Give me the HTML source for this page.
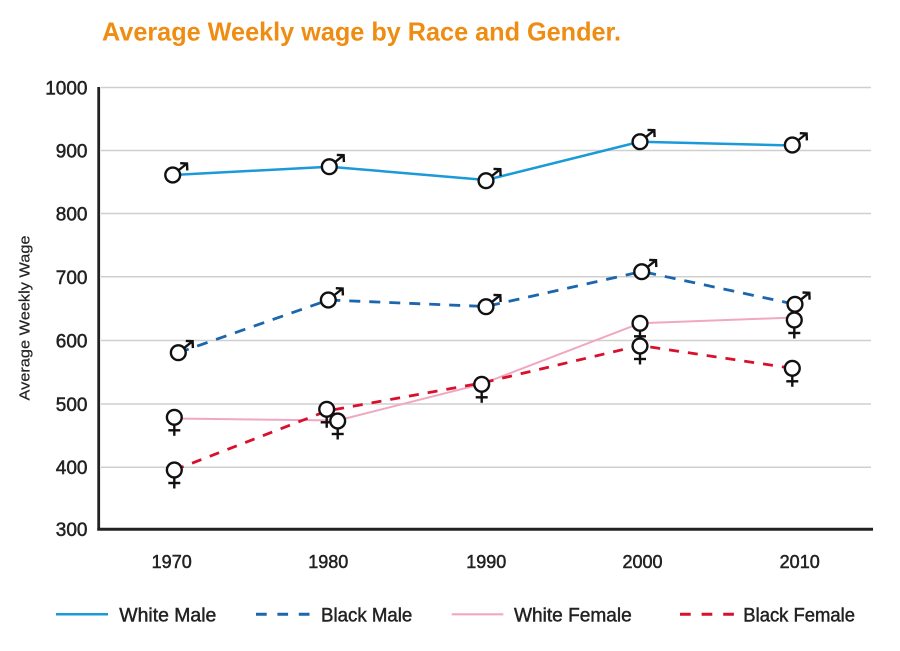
<!DOCTYPE html>
<html>
<head>
<meta charset="utf-8">
<style>
  html, body { margin:0; padding:0; background:#ffffff; }
  body { width:900px; height:651px; overflow:hidden; }
  svg { display:block; }
  text { font-family: "Liberation Sans", "DejaVu Sans", sans-serif; }
</style>
</head>
<body>
<svg width="900" height="651" viewBox="0 0 900 651" xmlns="http://www.w3.org/2000/svg">
  <rect x="0" y="0" width="900" height="651" fill="#ffffff"/>

  <!-- Title -->
  <text x="102" y="40.5" font-size="26" font-weight="bold" fill="#EF8C12" textLength="519" lengthAdjust="spacingAndGlyphs">Average Weekly wage by Race and Gender.</text>

  <!-- Gridlines -->
  <g stroke="#cfcfcf" stroke-width="1.5">
    <line x1="101" y1="87.5" x2="871" y2="87.5"/>
    <line x1="101" y1="150.5" x2="871" y2="150.5"/>
    <line x1="101" y1="213.5" x2="871" y2="213.5"/>
    <line x1="101" y1="276.8" x2="871" y2="276.8"/>
    <line x1="101" y1="340.5" x2="871" y2="340.5"/>
    <line x1="101" y1="404" x2="871" y2="404"/>
    <line x1="101" y1="467.3" x2="871" y2="467.3"/>
  </g>

  <!-- Axes -->
  <line x1="98.7" y1="87" x2="98.7" y2="530.5" stroke="#222" stroke-width="2.8"/>
  <line x1="97.3" y1="529.2" x2="873" y2="529.2" stroke="#222" stroke-width="3"/>

  <!-- Y tick labels -->
  <g font-size="19" fill="#222" stroke="#222" stroke-width="0.5" text-anchor="end">
    <text x="87.5" y="94.5">1000</text>
    <text x="87.5" y="157.5">900</text>
    <text x="87.5" y="220.5">800</text>
    <text x="87.5" y="283.8">700</text>
    <text x="87.5" y="347.5">600</text>
    <text x="87.5" y="411">500</text>
    <text x="87.5" y="474">400</text>
    <text x="87.5" y="536">300</text>
  </g>

  <!-- X tick labels -->
  <g font-size="18" fill="#222" stroke="#222" stroke-width="0.5" text-anchor="middle">
    <text x="171.7" y="568">1970</text>
    <text x="328.3" y="568">1980</text>
    <text x="486.3" y="568">1990</text>
    <text x="642.5" y="568">2000</text>
    <text x="799.7" y="568">2010</text>
  </g>

  <!-- Y axis title -->
  <text transform="translate(29.5,318) rotate(-90)" font-size="14.5" fill="#222" stroke="#222" stroke-width="0.2" text-anchor="middle" textLength="165" lengthAdjust="spacingAndGlyphs">Average Weekly Wage</text>

  <!-- Series lines -->
  <polyline fill="none" stroke="#1A9AD8" stroke-width="2.5" stroke-linejoin="round"
    points="172.7,175 329.3,166.7 486,180 640,141.7 792.3,145.5"/>
  <polyline fill="none" stroke="#1B66AC" stroke-width="2.8" stroke-dasharray="11 9"
    points="178.3,352.7 328.3,300 486,306.5 641.7,271.5 795,304.3"/>
  <polyline fill="none" stroke="#F0A8C0" stroke-width="2" stroke-linejoin="round"
    points="174.3,418.5 337.7,420.5 481.7,384 640,323.3 794.3,317.5"/>
  <polyline fill="none" stroke="#D8102C" stroke-width="2.8" stroke-dasharray="10 9"
    points="174.3,470 326.7,411 481.7,383 640,345.5 792.3,368.3"/>

  <defs>
    <g id="male" fill="none" stroke="#111" stroke-width="2.4">
      <circle cx="0" cy="0" r="7.4" fill="#fff"/>
      <line x1="5.6" y1="-4.5" x2="14.3" y2="-11.5"/>
      <polyline points="7.5,-11.8 14.3,-11.5 14.6,-4.6" stroke-linejoin="miter"/>
    </g>
    <g id="female" fill="none" stroke="#111" stroke-width="2.4">
      <line x1="0" y1="7" x2="0" y2="18.5"/>
      <line x1="-6" y1="13" x2="6" y2="13"/>
      <circle cx="0" cy="0" r="7.4" fill="#fff"/>
    </g>
  </defs>

  <!-- White Male markers -->
  <use href="#male" x="172.7" y="175"/>
  <use href="#male" x="329.3" y="166.7"/>
  <use href="#male" x="486" y="180.7"/>
  <use href="#male" x="640" y="141.7"/>
  <use href="#male" x="792.3" y="145"/>

  <!-- Black Male markers -->
  <use href="#male" x="178.3" y="352.7"/>
  <use href="#male" x="328.3" y="300"/>
  <use href="#male" x="486" y="306.7"/>
  <use href="#male" x="641.7" y="271.7"/>
  <use href="#male" x="795" y="304.3"/>

  <!-- Female markers -->
  <use href="#female" x="174.3" y="417.3"/>
  <use href="#female" x="174.3" y="470"/>
  <use href="#female" x="326.7" y="409.3"/>
  <use href="#female" x="337.7" y="421"/>
  <use href="#female" x="481.7" y="384.3"/>
  <use href="#female" x="640" y="323.3"/>
  <use href="#female" x="640" y="346"/>
  <use href="#female" x="794.3" y="320"/>
  <use href="#female" x="792.3" y="368.3"/>

  <!-- Legend -->
  <line x1="56" y1="614.3" x2="108" y2="614.3" stroke="#1A9AD8" stroke-width="2.5"/>
  <text x="119.3" y="621.5" font-size="19" fill="#222" stroke="#222" stroke-width="0.45" textLength="97" lengthAdjust="spacingAndGlyphs">White Male</text>

  <line x1="256" y1="614.3" x2="310" y2="614.3" stroke="#1B66AC" stroke-width="3" stroke-dasharray="10.7 10.7"/>
  <text x="321" y="621.5" font-size="19" fill="#222" stroke="#222" stroke-width="0.45" textLength="91.3" lengthAdjust="spacingAndGlyphs">Black Male</text>

  <line x1="451.7" y1="614.3" x2="503.3" y2="614.3" stroke="#F0A8C0" stroke-width="2.2"/>
  <text x="514" y="621.5" font-size="19" fill="#222" stroke="#222" stroke-width="0.45" textLength="117.7" lengthAdjust="spacingAndGlyphs">White Female</text>

  <line x1="680" y1="614.3" x2="734" y2="614.3" stroke="#D8102C" stroke-width="3" stroke-dasharray="10.7 10.9"/>
  <text x="743.3" y="621.5" font-size="19" fill="#222" stroke="#222" stroke-width="0.45" textLength="111.7" lengthAdjust="spacingAndGlyphs">Black Female</text>
</svg>
</body>
</html>
